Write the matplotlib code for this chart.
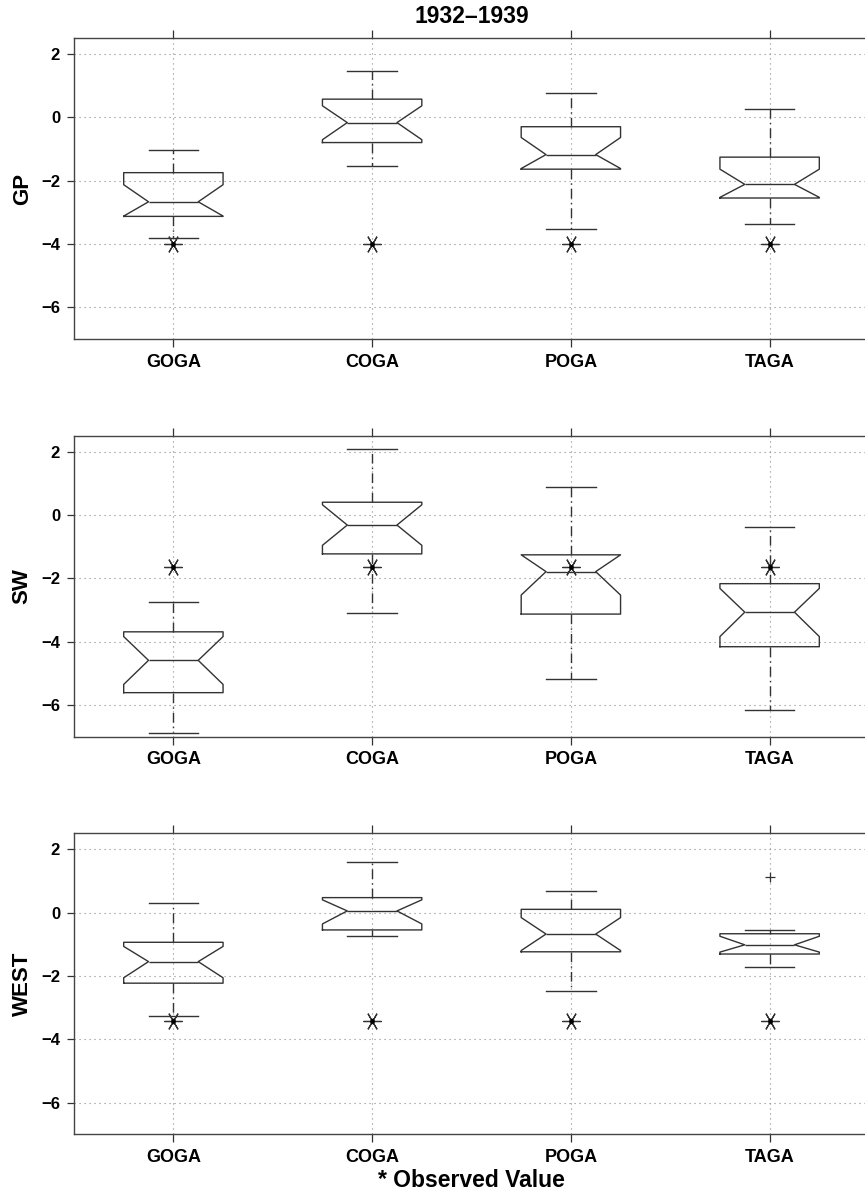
import matplotlib.pyplot as plt

plt.rcParams['font.family'] = ['Liberation Sans', 'DejaVu Sans']
plt.rcParams['font.weight'] = 'bold'

models = ['GOGA', 'COGA', 'POGA', 'TAGA']
regions = ['GP', 'SW', 'WEST']

# box statistics, one list per region
gp_whishi = [-1.02, 1.47, 0.77, 0.25]
gp_q3 = [-1.75, 0.57, -0.30, -1.26]
gp_cihi = [-2.13, 0.36, -0.64, -1.64]
gp_med = [-2.67, -0.17, -1.18, -2.12]
gp_cilo = [-3.12, -0.71, -1.62, -2.53]
gp_q1 = [-3.13, -0.80, -1.64, -2.55]
gp_whislo = [-3.80, -1.54, -3.53, -3.38]
gp_obs = [-4.0, -4.0, -4.0, -4.0]
gp_fliers = [[], [], [], []]

sw_whishi = [-2.76, 2.08, 0.88, -0.37]
sw_q3 = [-3.69, 0.40, -1.26, -2.17]
sw_cihi = [-3.84, 0.32, -1.26, -2.32]
sw_med = [-4.59, -0.32, -1.79, -3.07]
sw_cilo = [-5.35, -0.96, -2.53, -3.84]
sw_q1 = [-5.61, -1.23, -3.13, -4.16]
sw_whislo = [-6.88, -3.09, -5.18, -6.16]
sw_obs = [-1.64, -1.64, -1.64, -1.64]
sw_fliers = [[], [], [], []]

west_whishi = [0.29, 1.60, 0.67, -0.55]
west_q3 = [-0.94, 0.47, 0.10, -0.67]
west_cihi = [-1.07, 0.40, -0.16, -0.75]
west_med = [-1.55, 0.05, -0.68, -1.02]
west_cilo = [-2.06, -0.36, -1.20, -1.25]
west_q1 = [-2.23, -0.55, -1.24, -1.31]
west_whislo = [-3.26, -0.73, -2.48, -1.71]
west_obs = [-3.42, -3.42, -3.42, -3.42]
west_fliers = [[], [], [], [1.11]]

panels = [
    (gp_whishi, gp_q3, gp_cihi, gp_med, gp_cilo, gp_q1, gp_whislo, gp_obs, gp_fliers),
    (sw_whishi, sw_q3, sw_cihi, sw_med, sw_cilo, sw_q1, sw_whislo, sw_obs, sw_fliers),
    (west_whishi, west_q3, west_cihi, west_med, west_cilo, west_q1, west_whislo, west_obs, west_fliers),
]

W, H = 865, 1193
fig = plt.figure(figsize=(W / 100, H / 100), dpi=100)

ax_left, ax_right = 74, 869
tops = [38, 435.7, 833.3]
ax_h = 301

lc = '#333333'
pos = [1, 2, 3, 4]

for i, (reg, p) in enumerate(zip(regions, panels)):
    whishi, q3, cihi, med, cilo, q1, whislo, obs, fliers = p
    ax = fig.add_axes([ax_left / W, (H - tops[i] - ax_h) / H,
                       (ax_right - ax_left) / W, ax_h / H])
    stats = []
    for k in range(4):
        stats.append(dict(med=med[k], q1=q1[k], q3=q3[k], whislo=whislo[k],
                          whishi=whishi[k], cilo=cilo[k], cihi=cihi[k],
                          fliers=fliers[k], label=models[k]))
    ax.bxp(stats, positions=pos, widths=0.5, shownotches=True,
           boxprops=dict(color=lc, lw=1.0),
           medianprops=dict(color=lc, lw=1.0),
           whiskerprops=dict(color=lc, lw=1.0, ls=(0, (7, 3, 1, 3))),
           capprops=dict(color=lc, lw=1.0),
           flierprops=dict(marker='+', markersize=7, markeredgecolor=lc,
                           markeredgewidth=0.9, ls='none'))
    # observed values
    ax.plot(pos, obs, ls='none', marker=(6, 2, 30), markersize=13,
            markeredgecolor=lc, markeredgewidth=0.9, zorder=4)
    ax.plot(pos, obs, ls='none', marker='o', markersize=2.5,
            color='black', zorder=5)

    ax.set_xlim(0.5, 4.5)
    ax.set_ylim(-7, 2.5)
    ax.set_yticks([-6, -4, -2, 0, 2])
    ax.set_xticks(pos)
    ax.set_xticklabels(models, fontsize=13, fontweight='bold')
    ax.tick_params(axis='y', labelsize=12, direction='out', length=5,
                   width=0.9, color='#333333', pad=5, right=True)
    ax.tick_params(axis='x', direction='out', length=5.5, width=0.9,
                   color='#333333', pad=5, top=True)
    ax.grid(True, ls=(0, (1, 3.5)), color='#8a8a8a', lw=0.8)
    ax.set_axisbelow(True)
    for s in ax.spines.values():
        s.set_color('#444444')
        s.set_linewidth(1.0)
    ax.set_ylabel(reg, fontsize=16, fontweight='bold')
    ax.yaxis.set_label_coords(-0.052, 0.5)
    if i == 0:
        ax.set_title('1932–1939', fontsize=16.5, fontweight='bold',
                     y=1 + 14.7 / ax_h, pad=0)
    if i == 2:
        ax.set_xlabel('* Observed Value', fontsize=16.5, fontweight='bold')
        ax.xaxis.set_label_coords(0.5, -0.115)

fig.savefig('out.png', dpi=100)
